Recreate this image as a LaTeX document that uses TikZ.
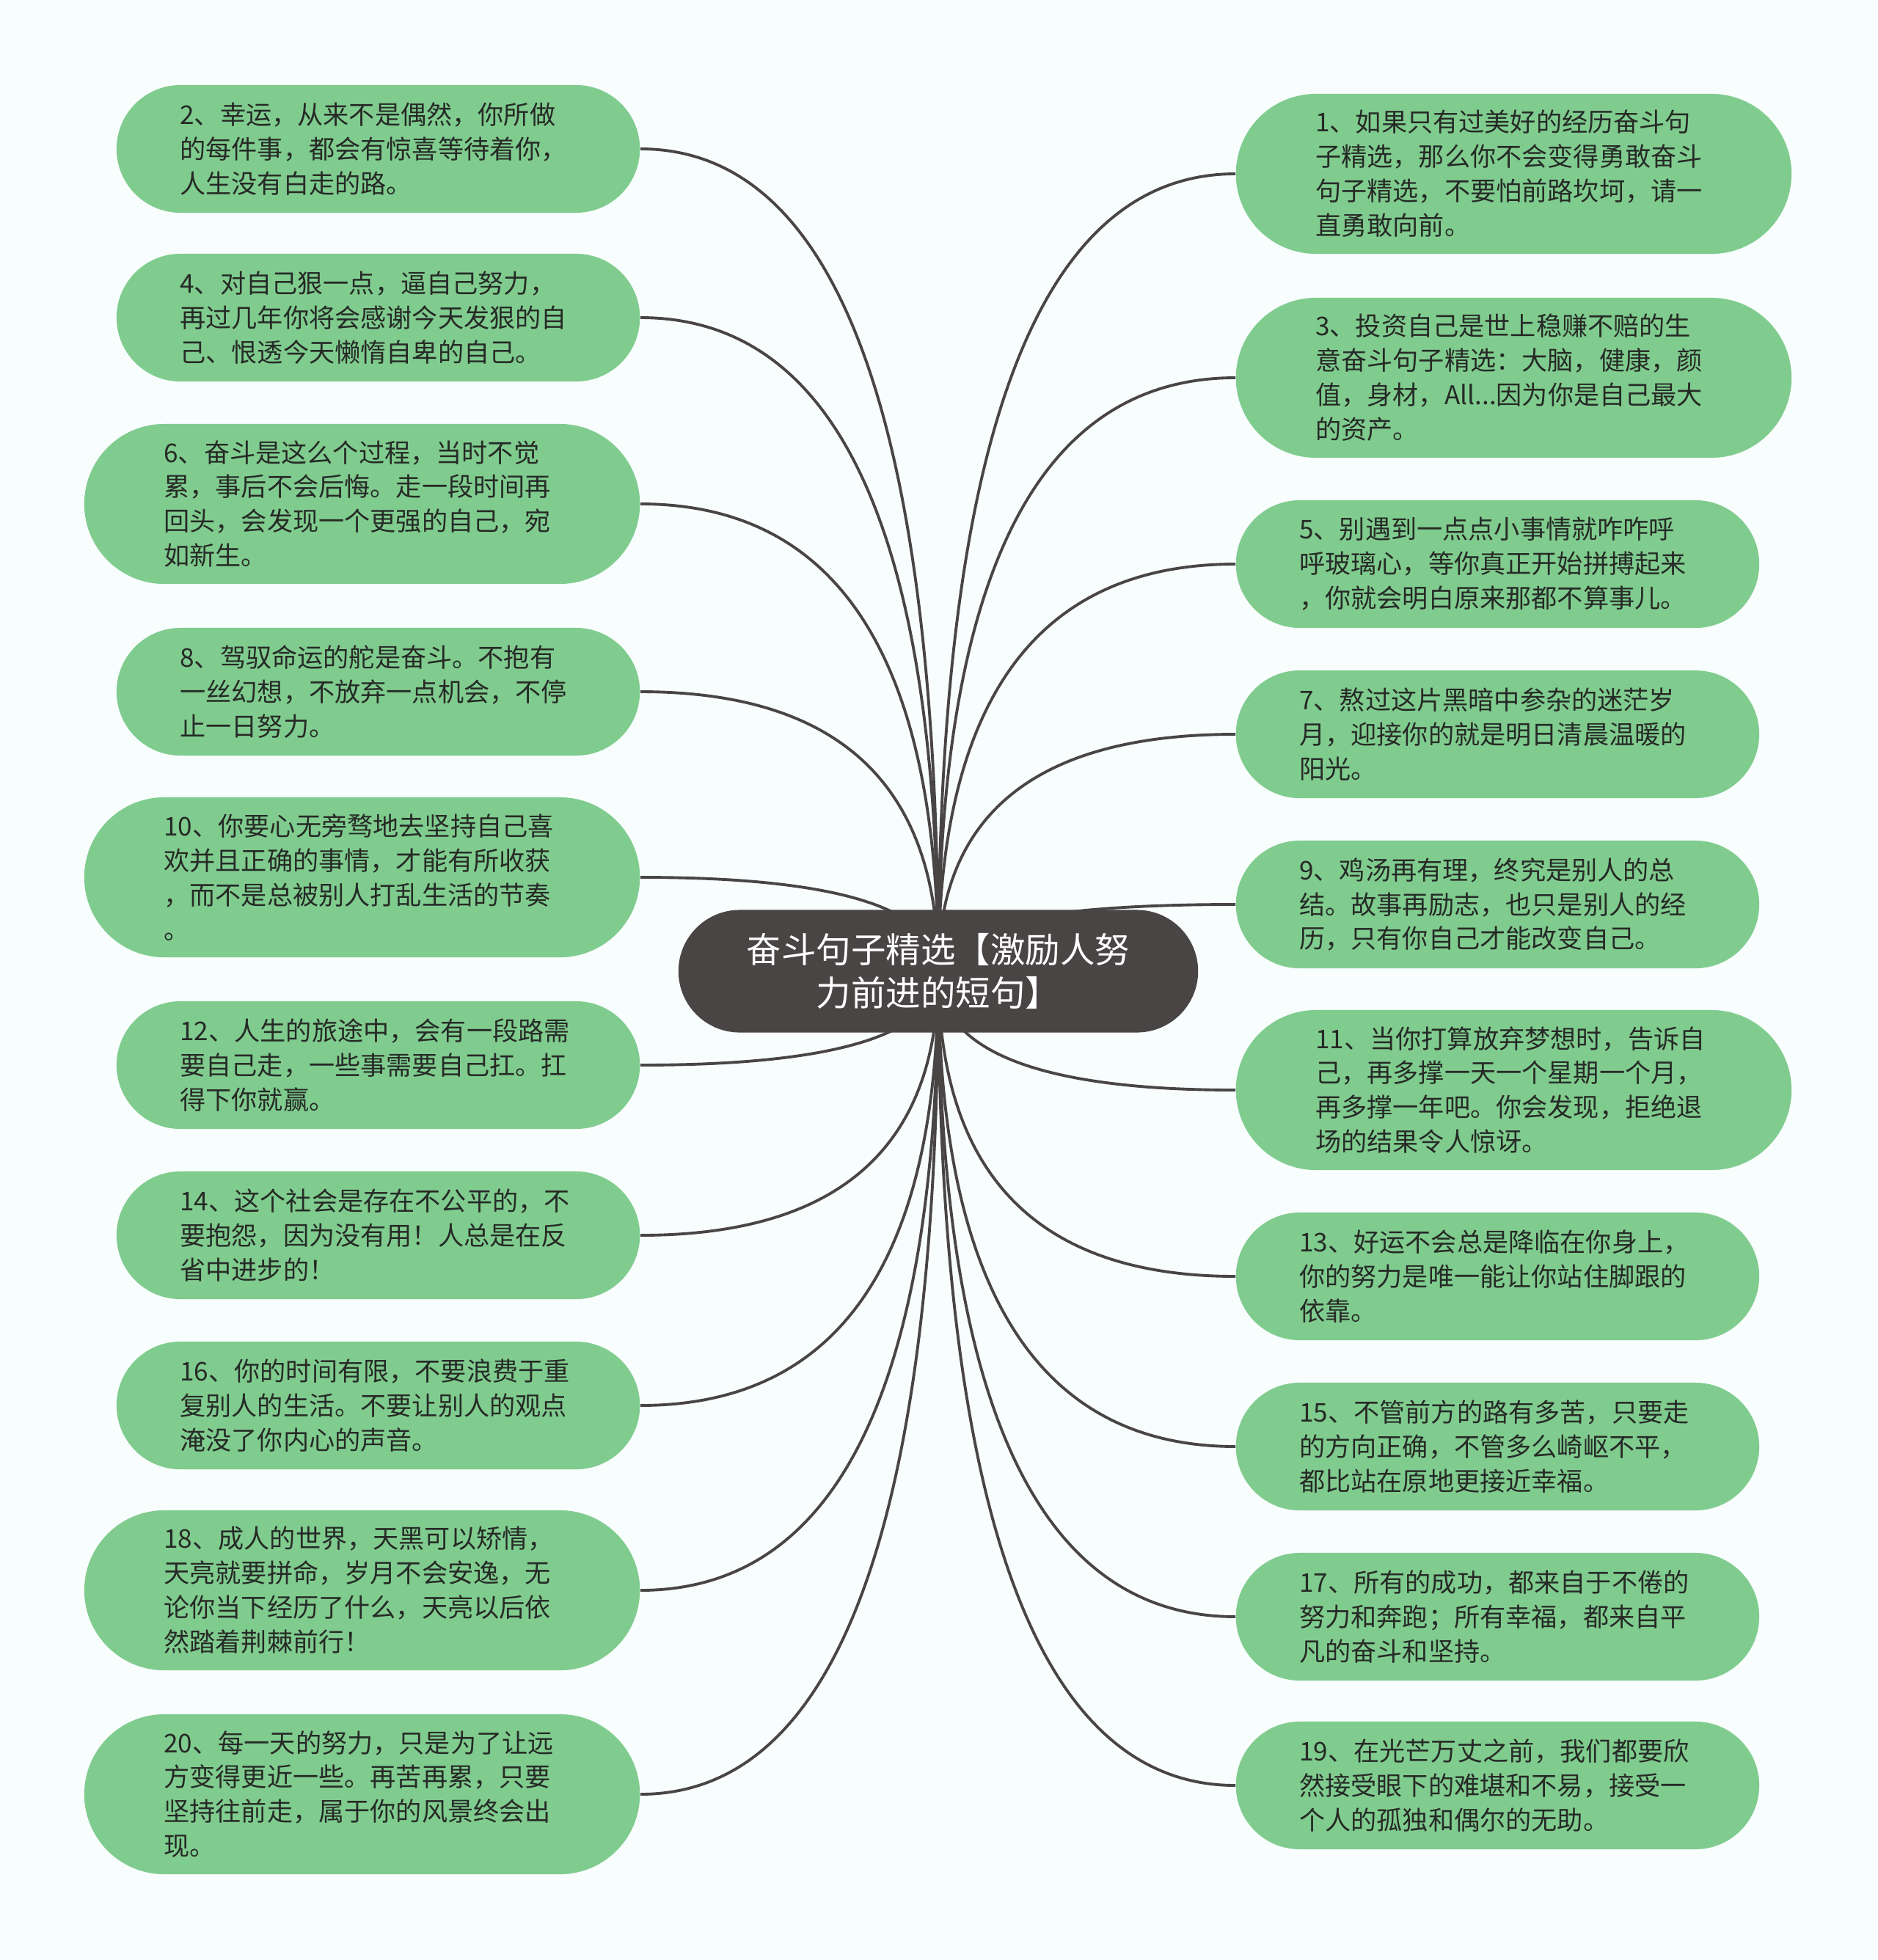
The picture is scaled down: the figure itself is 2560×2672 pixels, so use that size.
\documentclass[tikz,border=0pt]{standalone}
\usepackage{fontspec}
\setmainfont{Noto Sans CJK SC}
\usepackage{xcolor}
\usepackage{tikz}
\usetikzlibrary{calc, backgrounds}

\definecolor{leafgreen}{RGB}{128,204,143}
\definecolor{leafink}{RGB}{38,42,38}
\definecolor{rootgray}{RGB}{74,69,69}
\definecolor{linkgray}{RGB}{74,69,69}
\definecolor{paper}{RGB}{248,253,253}
\newcommand\leaffont{\fontsize{10pt}{13.35pt}\selectfont}
\newcommand\rootfont{\fontsize{13.5pt}{17pt}\selectfont}

\begin{document}
\begin{tikzpicture}[
    x=0.01cm, y=-0.01cm,
    leafbox/.style={rectangle, fill=leafgreen, text=leafink, align=left, text width=5.4cm, inner ysep=0pt, font=\leaffont},
    leafshort/.style={leafbox, minimum height=1.74cm, rounded corners=0.87cm, inner xsep=0.865cm},
    leaftall/.style={leafbox, minimum height=2.18cm, rounded corners=1.09cm, inner xsep=1.085cm},
    rootbox/.style={rectangle, fill=rootgray, text=white, align=center, text width=5.6cm, minimum width=7.08cm, minimum height=1.67cm, rounded corners=0.835cm, font=\rootfont},
    link/.style={draw=linkgray, line width=1.1pt},
]

\node[rootbox] (root) at (1279, 1324) {奋斗句子精选【激励人努\\力前进的短句】};

% left column
\node[leafshort, anchor=east] (l2) at (873, 203) {2、幸运，从来不是偶然，你所做\\的每件事，都会有惊喜等待着你，\\人生没有白走的路。};
\node[leafshort, anchor=east] (l4) at (873, 433) {4、对自己狠一点，逼自己努力，\\再过几年你将会感谢今天发狠的自\\己、恨透今天懒惰自卑的自己。};
\node[leaftall, anchor=east] (l6) at (873, 687) {6、奋斗是这么个过程，当时不觉\\累，事后不会后悔。走一段时间再\\回头，会发现一个更强的自己，宛\\如新生。};
\node[leafshort, anchor=east] (l8) at (873, 943) {8、驾驭命运的舵是奋斗。不抱有\\一丝幻想，不放弃一点机会，不停\\止一日努力。};
\node[leaftall, anchor=east] (l10) at (873, 1196) {10、你要心无旁骛地去坚持自己喜\\欢并且正确的事情，才能有所收获\\，而不是总被别人打乱生活的节奏\\。};
\node[leafshort, anchor=east] (l12) at (873, 1452) {12、人生的旅途中，会有一段路需\\要自己走，一些事需要自己扛。扛\\得下你就赢。};
\node[leafshort, anchor=east] (l14) at (873, 1684) {14、这个社会是存在不公平的，不\\要抱怨，因为没有用！人总是在反\\省中进步的！};
\node[leafshort, anchor=east] (l16) at (873, 1916) {16、你的时间有限，不要浪费于重\\复别人的生活。不要让别人的观点\\淹没了你内心的声音。};
\node[leaftall, anchor=east] (l18) at (873, 2168) {18、成人的世界，天黑可以矫情，\\天亮就要拼命，岁月不会安逸，无\\论你当下经历了什么，天亮以后依\\然踏着荆棘前行！};
\node[leaftall, anchor=east] (l20) at (873, 2446) {20、每一天的努力，只是为了让远\\方变得更近一些。再苦再累，只要\\坚持往前走，属于你的风景终会出\\现。};

% right column
\node[leaftall, anchor=west] (r1) at (1684, 237) {1、如果只有过美好的经历奋斗句\\子精选，那么你不会变得勇敢奋斗\\句子精选，不要怕前路坎坷，请一\\直勇敢向前。};
\node[leaftall, anchor=west] (r3) at (1684, 515) {3、投资自己是世上稳赚不赔的生\\意奋斗句子精选：大脑，健康，颜\\值，身材，All...因为你是自己最大\\的资产。};
\node[leafshort, anchor=west] (r5) at (1684, 769) {5、别遇到一点点小事情就咋咋呼\\呼玻璃心，等你真正开始拼搏起来\\，你就会明白原来那都不算事儿。};
\node[leafshort, anchor=west] (r7) at (1684, 1001) {7、熬过这片黑暗中参杂的迷茫岁\\月，迎接你的就是明日清晨温暖的\\阳光。};
\node[leafshort, anchor=west] (r9) at (1684, 1233) {9、鸡汤再有理，终究是别人的总\\结。故事再励志，也只是别人的经\\历，只有你自己才能改变自己。};
\node[leaftall, anchor=west] (r11) at (1684, 1486) {11、当你打算放弃梦想时，告诉自\\己，再多撑一天一个星期一个月，\\再多撑一年吧。你会发现，拒绝退\\场的结果令人惊讶。};
\node[leafshort, anchor=west] (r13) at (1684, 1740) {13、好运不会总是降临在你身上，\\你的努力是唯一能让你站住脚跟的\\依靠。};
\node[leafshort, anchor=west] (r15) at (1684, 1972) {15、不管前方的路有多苦，只要走\\的方向正确，不管多么崎岖不平，\\都比站在原地更接近幸福。};
\node[leafshort, anchor=west] (r17) at (1684, 2204) {17、所有的成功，都来自于不倦的\\努力和奔跑；所有幸福，都来自平\\凡的奋斗和坚持。};
\node[leafshort, anchor=west] (r19) at (1684, 2434) {19、在光芒万丈之前，我们都要欣\\然接受眼下的难堪和不易，接受一\\个人的孤独和偶尔的无助。};

% connectors behind the boxes
\begin{scope}[on background layer]
\fill[paper] (0, 0) rectangle (2560, 2672);
\foreach \leaf/\side in {l2/east, l4/east, l6/east, l8/east, l10/east, l12/east, l14/east, l16/east, l18/east, l20/east,
                         r1/west, r3/west, r5/west, r7/west, r9/west, r11/west, r13/west, r15/west, r17/west, r19/west} {
  \coordinate (bend) at (root.center |- \leaf.\side);
  \draw[link] (root.center) .. controls ($(root.center)!2/3!(bend)$) and ($(\leaf.\side)!2/3!(bend)$) .. (\leaf.\side);
}
\end{scope}

\end{tikzpicture}
\end{document}
